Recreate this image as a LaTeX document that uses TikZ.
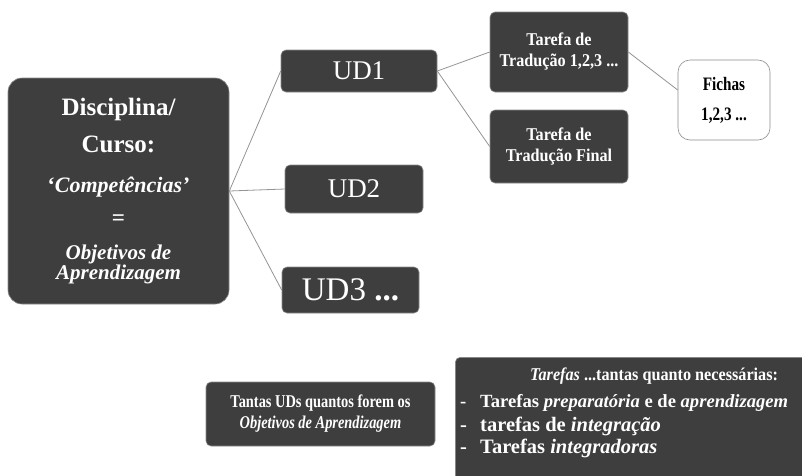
\documentclass[tikz,border=0pt]{standalone}
\usepackage{fontspec}
\setmainfont{Liberation Serif}
\newfontfamily\condA{Liberation Serif}[FakeStretch=0.8]
\newfontfamily\condB{Liberation Serif}[FakeStretch=0.9]
\definecolor{boxfill}{HTML}{3E3E3E}
\definecolor{boxedge}{HTML}{8C8C8C}
\definecolor{linkcol}{HTML}{949494}
\begin{document}
\begin{tikzpicture}[x=1pt,y=-1pt,
  dark/.style={fill=boxfill, draw=boxedge, line width=0.6pt, rounded corners=5pt,
               text=white, inner sep=0pt, align=center},
  light/.style={fill=white, draw=boxedge, line width=0.6pt, rounded corners=12pt,
               text=black, inner sep=0pt, align=center},
  link/.style={draw=linkcol, line width=0.8pt}]
\useasboundingbox (0,0) rectangle (802,475);
\fill[white] (0,0) rectangle (802,475);

% main box
\node[dark, rounded corners=14pt, minimum width=221pt, minimum height=226pt,
      font=\fontsize{25}{30}\selectfont\bfseries] (main) at (118.5,191)
  {Disciplina/\\[7pt]
   Curso:\\[10pt]
   {\fontsize{22}{30}\selectfont ‘\textit{Competências’}}\\[3pt]
   {\fontsize{23}{30}\selectfont =}\\[4pt]
   {\fontsize{21}{30}\selectfont\itshape Objetivos de}\\[-10pt]
   {\fontsize{21}{30}\selectfont\itshape Aprendizagem}};

% UD boxes
\node[dark, minimum width=156pt, minimum height=42pt,
      font=\fontsize{27}{30}\selectfont] (ud1) at (359,71) {UD1};
\node[dark, minimum width=138pt, minimum height=48pt,
      font=\fontsize{27}{30}\selectfont] (ud2) at (354,189) {UD2};
\node[dark, minimum width=137pt, minimum height=46pt,
      font=\fontsize{33}{36}\selectfont] (ud3) at (350.5,290) {UD3 \textbf{...}};

% Tarefa boxes
\node[dark, minimum width=138pt, minimum height=80pt,
      font=\condB\fontsize{18}{21}\selectfont\bfseries] (t1) at (559,52)
  {Tarefa de\\Tradução 1,2,3 ...};
\node[dark, minimum width=138pt, minimum height=73pt,
      font=\condB\fontsize{18}{21}\selectfont\bfseries] (tf) at (559,146.5)
  {Tarefa de\\Tradução Final};

% Fichas
\node[light, minimum width=92pt, minimum height=80pt,
      font=\condA\fontsize{19}{30}\selectfont\bfseries] (fichas) at (724,100)
  {Fichas\\1,2,3 ...};

% bottom boxes
\node[dark, minimum width=229pt, minimum height=64pt,
      font=\condA\fontsize{18}{21}\selectfont\bfseries] (bl) at (320.5,414)
  {Tantas UDs quantos forem os\\\textit{Objetivos de Aprendizagem}};

\node[dark, anchor=north west, minimum width=352pt, minimum height=125pt] (br) at (455,357) {};
\node[anchor=north west, inner sep=0pt, align=left, text=white,
      font=\fontsize{18.6}{24}\selectfont\bfseries] (brtext) at (460,368)
  {\hspace*{70pt}{\condB\fontsize{18}{24}\selectfont\textit{Tarefas} ...tantas quanto necessárias:}\\[3pt]
   \makebox[20pt][l]{-}Tarefas \textit{preparatória} e de \textit{aprendizagem}\\[0pt]
   {\fontsize{20.5}{24}\selectfont\makebox[20pt][l]{-}tarefas de \textit{integração}}\\[-2pt]
   {\fontsize{20.5}{24}\selectfont\makebox[20pt][l]{-}Tarefas \textit{integradoras}}};

% connectors
\draw[link] (main.east) -- (ud1.west);
\draw[link] (main.east) -- (ud2.west);
\draw[link] (main.east) -- (ud3.west);
\draw[link] (ud1.east) -- (t1.west);
\draw[link] (ud1.east) -- (tf.west);
\draw[link] (t1.east) -- ([yshift=10pt]fichas.west);
\end{tikzpicture}
\end{document}
